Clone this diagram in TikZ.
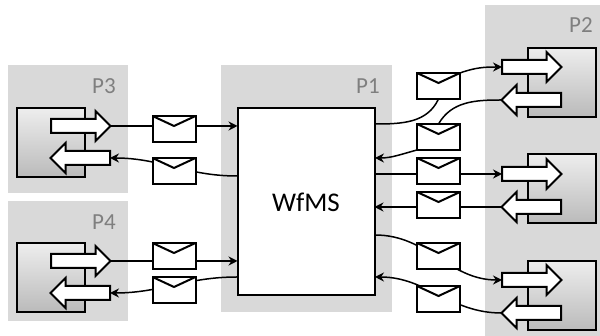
\documentclass[tikz,border=0pt]{standalone}
\usepackage{fontspec}
\setmainfont{Carlito}
\usepackage{xcolor}
\usetikzlibrary{positioning, arrows.meta, shapes}
\definecolor{panelgray}{HTML}{D9D9D9}
\definecolor{labelgray}{HTML}{7F7F7F}

\begin{document}
\begin{tikzpicture}[x=1pt, y=1pt]
    % Define styles
    \tikzstyle{panel} = [rectangle, fill=panelgray, inner sep=0pt, outer sep=0pt]
    \tikzstyle{plabel} = [text=labelgray, font=\fontsize{23}{23}\selectfont, inner sep=0pt]
    \tikzstyle{engine} = [rectangle, draw, fill=white, line width=2pt, inner sep=0pt, outer sep=0pt, minimum width=137pt, minimum height=187pt, font=\fontsize{27}{27}\selectfont]
    \tikzstyle{component} = [rectangle, draw, line width=2pt, top color=black!7, bottom color=black!27, inner sep=0pt, outer sep=0pt, minimum width=68pt, minimum height=69pt]
    \tikzstyle{port} = [single arrow, draw, fill=white, line width=2pt, inner sep=0pt, outer sep=0pt, text height=12pt, text depth=0pt, minimum height=59.5pt, single arrow head extend=8pt, single arrow tip angle=90, single arrow head indent=0pt, anchor=tail]
    \tikzstyle{envelope} = [rectangle, draw, fill=white, line width=2pt, inner sep=0pt, outer sep=0pt, minimum width=43pt, minimum height=26pt, path picture={\draw[line width=2pt] (path picture bounding box.north west) -- ([yshift=-10pt]path picture bounding box.north) -- (path picture bounding box.north east);}]
    \tikzstyle{arrow} = [line width=1.5pt, ->, >={Stealth[length=9pt, width=9pt]}]
    \tikzstyle{plain} = [line width=1.5pt]

    \useasboundingbox (0,0) rectangle (600,336);

    % Panels
    \node [panel, minimum width=120pt, minimum height=128pt] (pthree) at (68,207) {};
    \node [panel, minimum width=120pt, minimum height=120pt] (pfour) at (68,75) {};
    \node [panel, minimum width=171pt, minimum height=247pt] (pone) at (306.5,147.5) {};
    \node [panel, minimum width=115pt, minimum height=331pt] (ptwo) at (542.5,165.5) {};
    \node [plabel] (pthreelabel) at (104,250) {P3};
    \node [plabel] (pfourlabel) at (104,114) {P4};
    \node [plabel] (ponelabel) at (368,250) {P1};
    \node [plabel] (ptwolabel) at (581,311) {P2};

    % Workflow engine
    \node [engine] (wfms) at (306,134) {WfMS};

    % Components
    \node [component] (compthree) at (50.5,193) {};
    \node [component] (compfour) at (50.5,58) {};
    \node [component] (compa) at (561.5,253.5) {};
    \node [component] (compb) at (561.5,147) {};
    \node [component] (compc) at (561.5,40) {};

    % Ports
    \node [port] (threeout) at (51,210) {};
    \node [port, shape border rotate=180] (threein) at (110,178) {};
    \node [port] (fourout) at (51,75) {};
    \node [port, shape border rotate=180] (fourin) at (110,43) {};
    \node [port] (aout) at (502,269) {};
    \node [port, shape border rotate=180] (ain) at (561,236) {};
    \node [port] (bout) at (502,162) {};
    \node [port, shape border rotate=180] (bin) at (561,129) {};
    \node [port] (cout) at (502,56) {};
    \node [port, shape border rotate=180] (cin) at (561,23) {};

    % Ends on the engine
    \coordinate (wfthree) at (237,160);
    \coordinate (wffour) at (237,59);
    \coordinate (wfaout) at (375,212);
    \coordinate (wfain) at (375,178);
    \coordinate (wfcout) at (375,101);
    \coordinate (wfcin) at (375,59);

    % Arrows
    \draw [arrow] (threeout.tip) -- (wfms.west |- threeout.tip);
    \draw [arrow] (wfthree) to[out=180, in=0] (threein.tail);
    \draw [arrow] (fourout.tip) -- (wfms.west |- fourout.tip);
    \draw [arrow] (wffour) to[out=180, in=0] (fourin.tail);
    \draw [arrow] (wfms.east |- bout.tail) -- (bout.tail);
    \draw [arrow] (bin.tip) -- (wfms.east |- bin.tip);
    \draw [arrow] (wfcout) to[out=0, in=180] (cout.tail);
    \draw [arrow] (cin.tip) to[out=180, in=0] (wfcin);

    % Messages
    \node [envelope] (msgone) at (174,207) {};
    \node [envelope] (msgtwo) at (174,165) {};
    \node [envelope] (msgthree) at (174,80) {};
    \node [envelope] (msgfour) at (174,46) {};
    \node [envelope] (msgfive) at (438.5,250) {};
    \node [envelope] (msgsix) at (438.5,199) {};
    \node [envelope] (msgseven) at (438.5,165) {};
    \node [envelope] (msgeight) at (438.5,131) {};
    \node [envelope] (msgnine) at (438.5,80) {};
    \node [envelope] (msgten) at (438.5,37) {};

    % Arrows that stop at a message
    \draw [plain] (wfaout) to[out=0, in=-115] (msgfive.south);
    \draw [arrow] (msgfive.north east) to[out=20, in=180] (aout.tail);
    \draw [plain] (ain.tip) to[out=180, in=60] (msgsix.north);
    \draw [arrow] (msgsix.south west) to[out=195, in=0] (wfain);
\end{tikzpicture}
\end{document}
